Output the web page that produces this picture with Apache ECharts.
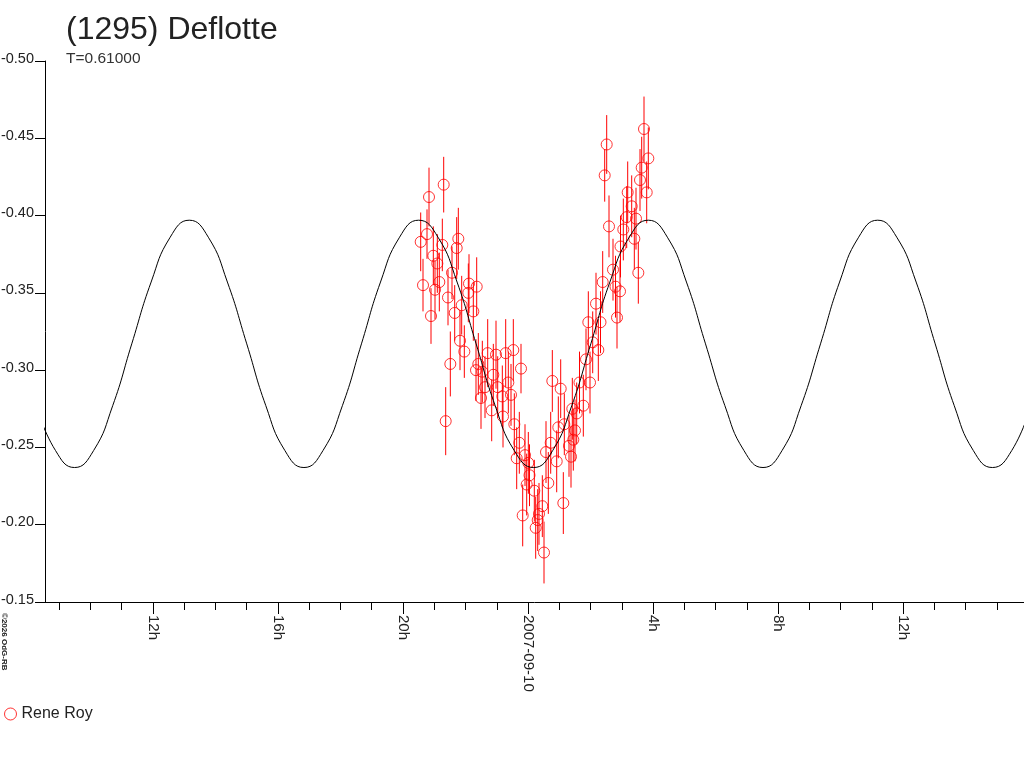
<!DOCTYPE html>
<html>
<head>
<meta charset="utf-8">
<title>(1295) Deflotte</title>
<script src="https://cdn.jsdelivr.net/npm/echarts@6/dist/echarts.min.js"></script>
<style>
  html, body { margin: 0; padding: 0; background: #fff; }
  #chart { width: 1024px; height: 768px; }
</style>
</head>
<body>
<div id="chart"></div>
<script>
// hours from 2007-09-10 00:00 UT
var tickHours = [-12, -8, -4, 0, 4, 8, 12];
var tickLabels = ['12h', '16h', '20h', '2007-09-10', '4h', '8h', '12h'];
var magTicks = [-0.50, -0.45, -0.40, -0.35, -0.30, -0.25, -0.20, -0.15];

// fitted curve
var curveTimes = [-15.74, -15.12, -14.51, -13.90, -13.29, -12.68, -12.06, -11.45, -10.84, -10.23,
  -9.62, -9.00, -8.39, -7.78, -7.17, -6.56, -5.94, -5.33, -4.72, -4.11,
  -3.50, -2.88, -2.27, -1.66, -1.05, -0.44, 0.18, 0.79, 1.40, 2.01,
  2.62, 3.24, 3.85, 4.46, 5.07, 5.68, 6.30, 6.91, 7.52, 8.13,
  8.74, 9.36, 9.97, 10.58, 11.19, 11.80, 12.42, 13.03, 13.64, 14.25,
  14.86, 15.48, 16.09];
var curveMags = [-0.277, -0.248, -0.237, -0.248, -0.277, -0.317, -0.357, -0.386, -0.397, -0.386,
  -0.357, -0.317, -0.277, -0.248, -0.237, -0.248, -0.277, -0.317, -0.357, -0.386,
  -0.397, -0.386, -0.357, -0.317, -0.277, -0.248, -0.237, -0.248, -0.277, -0.317,
  -0.357, -0.386, -0.397, -0.386, -0.357, -0.317, -0.277, -0.248, -0.237, -0.248,
  -0.277, -0.317, -0.357, -0.386, -0.397, -0.386, -0.357, -0.317, -0.277, -0.248,
  -0.237, -0.248, -0.277];

// observations (Rene Roy)
var obsTime = [-3.434, -3.360, -3.232, -3.168, -3.104, -3.030, -2.976, -2.902, -2.838, -2.742,
  -2.698, -2.634, -2.560, -2.486, -2.432, -2.346, -2.282, -2.230, -2.176, -2.122,
  -2.038, -1.910, -1.888, -1.750, -1.664, -1.642, -1.590, -1.504, -1.462, -1.376,
  -1.290, -1.162, -1.110, -1.024, -0.970, -0.822, -0.800, -0.714, -0.630, -0.544,
  -0.470, -0.438, -0.362, -0.278, -0.224, -0.170, -0.096, -0.042, 0.010, 0.048,
  0.202, 0.246, 0.310, 0.352, 0.458, 0.512, 0.576, 0.650, 0.726, 0.778,
  0.918, 0.970, 1.046, 1.130, 1.162, 1.312, 1.376, 1.418, 1.450, 1.504,
  1.558, 1.648, 1.770, 1.856, 1.930, 1.984, 2.070, 2.176, 2.250, 2.320,
  2.390, 2.454, 2.518, 2.592, 2.720, 2.800, 2.848, 2.944, 2.960, 3.050,
  3.158, 3.190, 3.318, 3.402, 3.456, 3.530, 3.584, 3.638, 3.712, 3.798,
  3.850];
var obsMag = [-0.383, -0.355, -0.388, -0.412, -0.335, -0.374, -0.352, -0.369, -0.357, -0.381,
  -0.420, -0.267, -0.347, -0.304, -0.363, -0.337, -0.379, -0.385, -0.319, -0.342,
  -0.312, -0.350, -0.356, -0.338, -0.300, -0.354, -0.304, -0.282, -0.299, -0.289,
  -0.311, -0.274, -0.297, -0.310, -0.289, -0.283, -0.270, -0.311, -0.292, -0.284,
  -0.313, -0.265, -0.243, -0.253, -0.301, -0.206, -0.245, -0.226, -0.240, -0.232,
  -0.222, -0.198, -0.203, -0.207, -0.212, -0.182, -0.247, -0.227, -0.253, -0.293,
  -0.241, -0.263, -0.288, -0.214, -0.265, -0.251, -0.244, -0.275, -0.255, -0.261,
  -0.272, -0.292, -0.277, -0.307, -0.331, -0.292, -0.318, -0.343, -0.313, -0.331,
  -0.357, -0.426, -0.446, -0.393, -0.365, -0.354, -0.334, -0.351, -0.380, -0.391,
  -0.399, -0.415, -0.406, -0.385, -0.398, -0.363, -0.423, -0.431, -0.456, -0.415,
  -0.437];
var obsErr = [0.019, 0.017, 0.016, 0.019, 0.018, 0.019, 0.019, 0.019, 0.019, 0.017,
  0.018, 0.022, 0.018, 0.021, 0.017, 0.018, 0.020, 0.020, 0.019, 0.019,
  0.017, 0.019, 0.019, 0.019, 0.020, 0.019, 0.020, 0.020, 0.020, 0.020,
  0.022, 0.020, 0.020, 0.022, 0.020, 0.020, 0.020, 0.022, 0.020, 0.020,
  0.020, 0.020, 0.020, 0.020, 0.016, 0.020, 0.020, 0.020, 0.020, 0.020,
  0.020, 0.020, 0.020, 0.020, 0.020, 0.020, 0.020, 0.020, 0.020, 0.020,
  0.020, 0.020, 0.019, 0.020, 0.020, 0.020, 0.020, 0.020, 0.020, 0.020,
  0.020, 0.020, 0.020, 0.020, 0.020, 0.020, 0.020, 0.020, 0.020, 0.020,
  0.020, 0.017, 0.019, 0.020, 0.020, 0.020, 0.020, 0.020, 0.020, 0.020,
  0.020, 0.020, 0.020, 0.020, 0.020, 0.020, 0.020, 0.020, 0.021, 0.020,
  0.020];

var FONT = 'Liberation Sans, Arial, sans-serif';
var RED = '#f00';

var hourTicks = [];
for (var h = -15; h <= 15; h++) hourTicks.push(h);

var curveData = [];
for (var i = 0; i < curveTimes.length; i++) curveData.push([curveTimes[i], curveMags[i]]);

var obsData = [];
for (var j = 0; j < obsTime.length; j++) obsData.push([obsTime[j], obsMag[j], obsErr[j]]);

var chart = echarts.init(document.getElementById('chart'));

var xMin = -15.456, xMax = 15.872;

chart.setOption({
  animation: false,
  backgroundColor: '#fff',
  title: {
    text: '(1295) Deflotte',
    subtext: 'T=0.61000',
    left: 61,
    top: 9,
    itemGap: 5,
    textStyle: { fontFamily: FONT, fontSize: 32, fontWeight: 'normal', color: '#222' },
    subtextStyle: { fontFamily: FONT, fontSize: 15.5, color: '#333' }
  },
  legend: {
    left: -1,
    top: 701,
    itemWidth: 12,
    itemHeight: 12,
    textStyle: { fontFamily: FONT, fontSize: 16, color: '#222' },
    data: [{
      name: 'Rene Roy',
      icon: 'circle',
      itemStyle: { color: '#fff', borderColor: RED, borderWidth: 1 }
    }]
  },
  graphic: [{
    type: 'text',
    x: 0,
    y: 613,
    rotation: -Math.PI / 2,
    style: {
      text: '\u00a92026 OdG-RB',
      fontFamily: FONT,
      fontSize: 8,
      fontWeight: 'bold',
      fill: '#222',
      align: 'left',
      verticalAlign: 'bottom'
    }
  }],
  grid: { left: 45, right: 0, top: 61, bottom: 166, outerBoundsMode: 'none', containLabel: false },
  xAxis: [{
    type: 'value',
    min: xMin,
    max: xMax,
    position: 'bottom',
    axisLine: { show: true, onZero: false, lineStyle: { color: '#000', width: 1 } },
    axisTick: { show: true, length: 8, customValues: hourTicks, lineStyle: { color: '#000' } },
    axisLabel: { show: false },
    splitLine: { show: false }
  }, {
    type: 'value',
    min: xMin,
    max: xMax,
    position: 'bottom',
    axisLine: { show: false, onZero: false },
    axisTick: { show: true, length: 12, customValues: tickHours, lineStyle: { color: '#000' } },
    axisLabel: {
      customValues: tickHours,
      rotate: -90,
      margin: 13,
      padding: [0, 0, 8, 0],
      fontFamily: FONT,
      fontSize: 15,
      color: '#222',
      formatter: function (v) {
        var k = tickHours.indexOf(Math.round(v));
        return k >= 0 ? tickLabels[k] : '';
      }
    },
    splitLine: { show: false }
  }],
  yAxis: {
    type: 'value',
    inverse: true,
    min: -0.50,
    max: -0.15,
    interval: 0.05,
    axisLine: { show: true, onZero: false, lineStyle: { color: '#000', width: 1 } },
    axisTick: { show: true, length: 10, lineStyle: { color: '#000' } },
    axisLabel: {
      customValues: magTicks,
      margin: 11,
      verticalAlign: 'bottom',
      lineHeight: 5,
      fontFamily: FONT,
      fontSize: 14.5,
      color: '#222',
      formatter: function (v) { return v.toFixed(2); }
    },
    splitLine: { show: false }
  },
  series: [{
    name: 'errors',
    type: 'custom',
    xAxisIndex: 0,
    data: obsData,
    encode: { x: 0, y: 1 },
    z: 2,
    renderItem: function (params, api) {
      var t = api.value(0), m = api.value(1), e = api.value(2);
      var a = api.coord([t, m - e]);
      var b = api.coord([t, m + e]);
      return {
        type: 'line',
        shape: { x1: a[0], y1: a[1], x2: b[0], y2: b[1] },
        style: { stroke: RED, lineWidth: 1 }
      };
    }
  }, {
    name: 'Rene Roy',
    type: 'scatter',
    xAxisIndex: 0,
    data: obsData,
    symbol: 'circle',
    symbolSize: 11,
    z: 3,
    itemStyle: { color: 'rgba(255,255,255,0)', borderColor: RED, borderWidth: 1 }
  }, {
    name: 'fit',
    type: 'line',
    xAxisIndex: 0,
    data: curveData,
    smooth: true,
    showSymbol: false,
    clip: true,
    z: 4,
    lineStyle: { color: '#000', width: 1 }
  }]
});
</script>
</body>
</html>
